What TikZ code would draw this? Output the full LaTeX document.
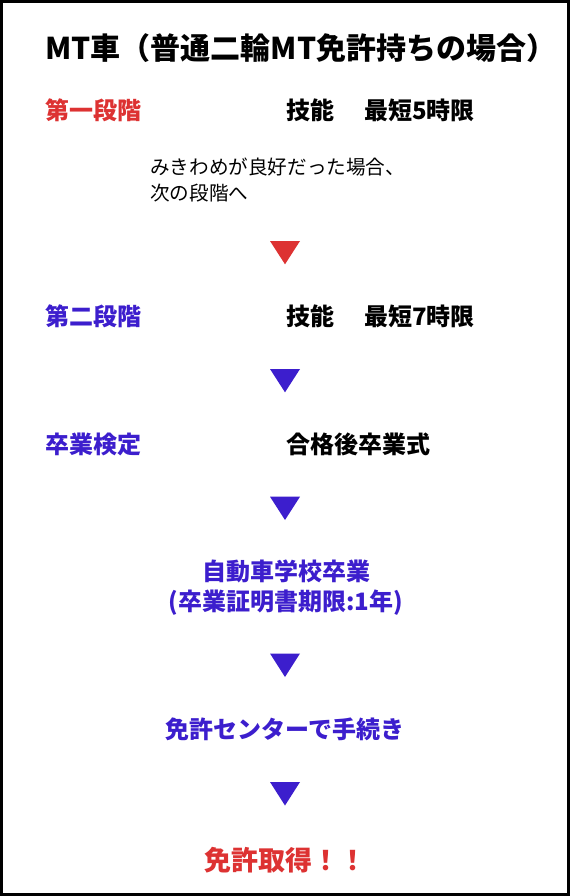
\documentclass[tikz,border=0pt]{standalone}
\usepackage{fontspec}
\setmainfont{Noto Sans CJK JP}
\definecolor{myred}{RGB}{221,50,50}
\definecolor{myblue}{RGB}{60,30,205}
\begin{document}
\begin{tikzpicture}[x=1pt,y=-1pt,
  lbl/.style={inner sep=0pt, anchor=west, font=\bfseries\fontsize{24}{30}\selectfont},
  ctr/.style={inner sep=0pt, anchor=center, align=center, font=\bfseries\fontsize{24}{30}\selectfont},
  titlestyle/.style={inner sep=0pt, anchor=west, font=\bfseries\fontsize{30}{36}\selectfont},
  note/.style={inner sep=0pt, anchor=west, align=left, font=\fontsize{19.6}{25.5}\selectfont},
  arrowtri/.style={draw=none}
]
\useasboundingbox (0,0) rectangle (570,896);
\fill[white] (0,0) rectangle (570,896);
\draw[line width=3.4pt] (1.7,1.7) rectangle (568.3,894.3);

\node[titlestyle] (title) at (45,48.5) {MT車（普通二輪MT免許持ちの場合）};

\node[lbl, text=myred] (s1) at (45.5,110.3) {第一段階};
\node[lbl] (s1r) at (286,110.3) {技能\hspace{30pt}最短5時限};
\node[note] (n1) at (150,179.8) {みきわめが良好だった場合、\\次の段階へ};

\fill[myred] (270,241) -- (300,241) -- (285,264.3) -- cycle;

\node[lbl, text=myblue] (s2) at (45.5,316) {第二段階};
\node[lbl] (s2r) at (286,316) {技能\hspace{30pt}最短7時限};

\fill[myblue] (270,369) -- (300,369) -- (285,392.3) -- cycle;

\node[lbl, text=myblue] (s3) at (45.5,444) {卒業検定};
\node[lbl] (s3r) at (286,444) {合格後卒業式};

\fill[myblue] (270,496.7) -- (300,496.7) -- (285,520) -- cycle;

\node[ctr, text=myblue] (grad) at (286,587.5) {自動車学校卒業\\(卒業証明書期限:1年)};

\fill[myblue] (270,653.5) -- (300,653.5) -- (285,677) -- cycle;

\node[ctr, text=myblue] (center) at (285,729.5) {免許センターで手続き};

\fill[myblue] (270,782) -- (300,782) -- (285,805.5) -- cycle;

\node[ctr, text=myred, font=\bfseries\fontsize{27}{32}\selectfont] (goal) at (285,860) {免許取得！！};
\end{tikzpicture}
\end{document}
